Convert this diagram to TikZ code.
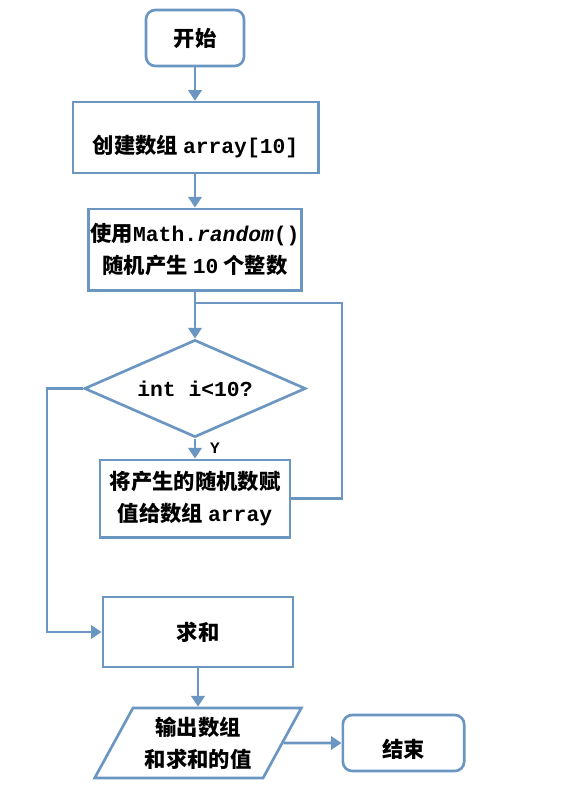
\documentclass[tikz,border=0pt]{standalone}
\usepackage{fontspec}
\setmainfont{Noto Sans CJK SC}
\setmonofont{Liberation Mono}
\usetikzlibrary{arrows.meta,shapes.geometric}
\definecolor{flowblue}{RGB}{108,150,194}

\newcommand\cw{0.75pt}
\newcommand\code[1]{{\ttfamily\bfseries #1}}

\begin{document}
\begin{tikzpicture}[x=\cw,y=-\cw,
		myarrow/.style={-{Triangle[width=10pt,length=8pt]}},
		myline/.style={color=flowblue,line width=2pt},
		myrectangle/.style={rectangle,draw=flowblue,line width=2pt,text=black,inner sep=.05cm,align=center,font=\bfseries\fontsize{16}{24}\selectfont},
		myround/.style={myrectangle,rounded corners=7pt},
		mydiamond/.style={myrectangle,diamond,aspect=2.3,inner sep=0pt},
		myparallel/.style={myrectangle,trapezium,trapezium left angle=60,trapezium right angle=120,trapezium stretches=true}]
		\useasboundingbox (0,0) rectangle (580,788);
		\node(start)[myround,minimum width=73.5pt,minimum height=42pt] at (195,38) {开始};
		\node(create)[myrectangle,minimum width=184pt,minimum height=53pt] at (195.5,137.5) {\mbox{}\\[4pt]创建数组 \code{array[10]}};
		\node(gen)[myrectangle,minimum width=154.5pt,minimum height=61pt] at (195,249.5)
		{使用\code{Math.\textit{random}()}\\随机产生 \code{10} 个整数};
		\node(test)[mydiamond,minimum width=166pt,minimum height=73pt] at (195,388.5) {\code{int i<10?}};
		\node(assign)[myrectangle,minimum width=142.5pt,minimum height=58pt] at (195,498.5)
		{将产生的随机数赋\\值给数组 \code{array}};
		\node(sum)[myrectangle,minimum width=142.5pt,minimum height=52.5pt] at (198,632) {求和};
		\node(output)[myparallel,minimum width=155pt,minimum height=52.5pt] at (198,743) {输出数组\\和求和的值};
		\node(stop)[myround,minimum width=91pt,minimum height=42pt] at (403.5,743) {\mbox{}\\结束};
		\coordinate(loopin) at (test.north |- 0,303);
		\coordinate(loopright) at (342,303);
		\coordinate(leftturn) at (47,388.5);
		\path [myline] (start.270) edge [myarrow] (start.270 |- create.90);
		\path [myline] (start.270 |- create.270) edge [myarrow] (gen.90);
		\path [myline] (gen.270) edge [myarrow] (test.90);
		\path [myline] (test.270) edge [myarrow] node[right=7pt,text=black,font=\ttfamily\bfseries\fontsize{12}{14}\selectfont] {Y} (assign.90);
		\draw [myline] (assign.east) -| (loopright) -- (loopin);
		\draw [myline, myarrow] (test.west) -- (leftturn) |- (sum.west);
		\path [myline] (sum.270) edge [myarrow] (output.90);
		\path [myline] (output.east) edge [myarrow] (stop.west);
	\end{tikzpicture}
\end{document}
